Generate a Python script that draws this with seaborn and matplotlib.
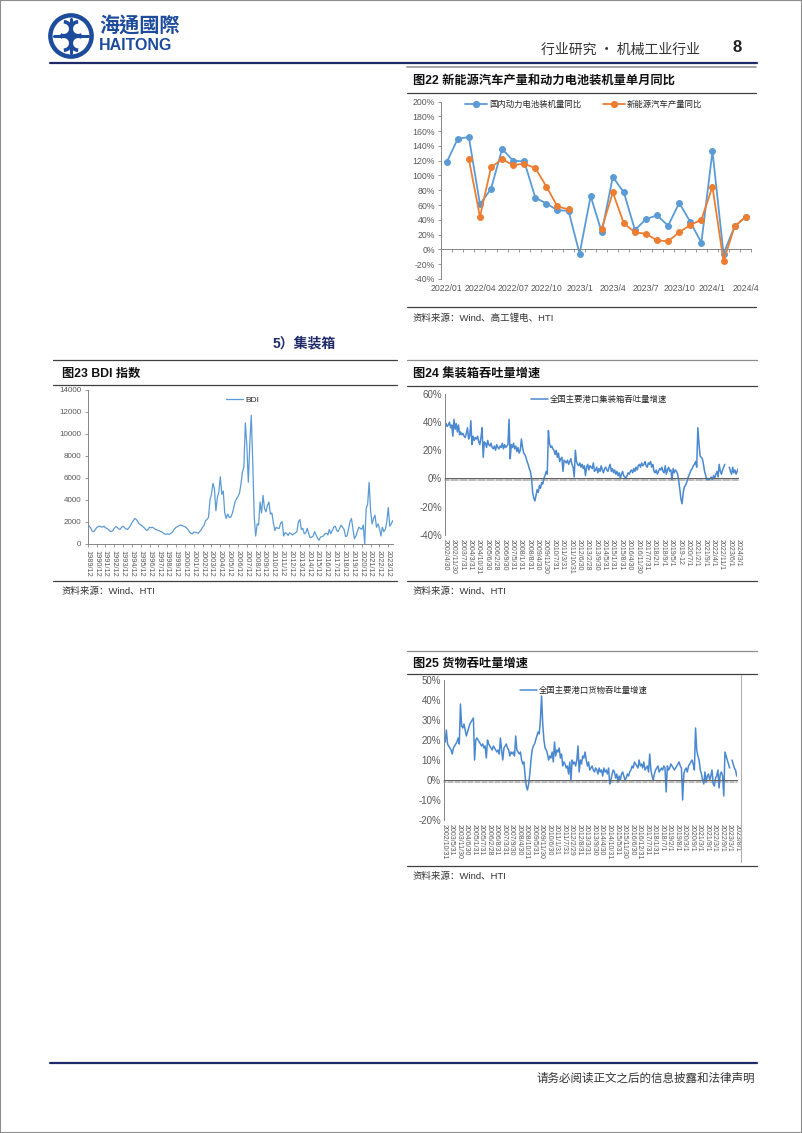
import numpy as np
import pandas as pd
import matplotlib
matplotlib.use('Agg')
import matplotlib.pyplot as plt
import seaborn as sns
from matplotlib.lines import Line2D
from matplotlib.patches import Circle, Rectangle, Arc

sns.set_theme(style='white')
plt.rcParams['font.family'] = ['Liberation Sans', 'Noto Sans CJK SC', 'DejaVu Sans']
plt.rcParams['axes.unicode_minus'] = False

# ---------------- data ----------------
# Fig 22 (monthly, 2022/01 - 2024/04), %
x22_labels = ['2022/01', '2022/04', '2022/07', '2022/10', '2023/1', '2023/4',
              '2023/7', '2023/10', '2024/1', '2024/4']
battery_yoy = [118, 150, 152, 61, 82, 136, 120, 119, 70, 62, 53, 52, -6, 72,
               23, 98, 77, 26, 41, 46, 32, 63, 37, 9, 133, -6, 31, 44]
nev_yoy = [np.nan, np.nan, 122, 44, 111, 122, 114, 116, 110, 85, 58, 54, np.nan, np.nan,
           28, 77, 35, 23, 21, 12, 11, 23, 33, 40, 85, -16, 31, 44]

# Fig 23 BDI (bi-monthly from 1989/12)
bdi = [1700,
       1600, 1450, 1150, 1100, 1250, 1450,
       1550, 1600, 1550, 1500, 1600, 1450,
       1400, 1300, 1150, 1100, 1200, 1400,
       1550, 1500, 1350, 1300, 1500, 1600,
       1450, 1350, 1300, 1450, 1650, 1900,
       2100, 2300, 2200, 2000, 1800, 1700,
       1600, 1500, 1350, 1200, 1300, 1500,
       1450, 1500, 1400, 1300, 1250, 1200,
       1150, 1100, 1000, 900, 850, 900,
       850, 900, 1000, 1150, 1350, 1500,
       1550, 1650, 1700, 1650, 1600, 1550,
       1450, 1300, 1100, 950, 900, 1050,
       1050, 1000, 950, 1100, 1250, 1500,
       1700, 2100, 2200, 2400, 4000, 4500,
       5500, 5000, 3000, 4200, 4700, 6100,
       4500, 4800, 2800, 2300, 2700, 2400,
       2400, 2700, 3200, 3800, 4100, 4300,
       4600, 5400, 6500, 7000, 11000, 9000,
       5600, 9000, 11700, 7500, 2500, 700,
       1800, 1700, 3800, 2800, 4400, 3200,
       2900, 3500, 3800, 2700, 2800, 1900,
       1200, 1500, 1400, 1400, 1900, 2000,
       700, 1000, 950, 750, 1000, 900,
       800, 900, 1000, 1100, 2000, 2200,
       1300, 1400, 900, 1000, 1400, 900,
       550, 600, 700, 1100, 800, 500,
       320, 600, 650, 700, 900, 950,
       800, 1300, 900, 1200, 1500, 1600,
       1200, 1100, 1400, 1700, 1500, 1300,
       650, 700, 1300, 2000, 2300, 1400,
       450, 700, 1100, 1500, 1400, 1300,
       1700, 0, 3200, 3600, 5600, 3000,
       1800, 2300, 2600, 1500, 1800, 1400,
       700, 1500, 1100, 1300, 2000, 3300,
       1600, 1800, 2100]
bdi_years = list(range(1989, 2024))

# Fig 24 container throughput growth (monthly from 2002/4), %
container = [36, 39, 37, 38, 40, 36, 38, 30, 42, 35, 39, 33, 38, 31,
             33, 31, 32, 30, 29, 32, 36, 28, 30, 41, 24, 30,
             27, 29, 28, 30, 26, 24, 29, 36,
             15, 26, 25, 22, 27, 24, 23,
             25, 22, 21, 23, 20, 24, 22, 21, 23, 22, 25, 21, 24, 22, 23, 24,
             42, 14,
             24, 22, 25, 21, 23, 19, 22, 18, 20, 28,
             22, 18, 17, 15, 12, 10, 7, 5, 0, -10, -14, -16,
             -12, -8, -10, -5, -7, -3, -4, 0, 2, 5, 3,
             34, 25,
             22, 23, 21, 20, 17, 20, 15, 18, 12, 14, 15, 5, 13, 12, 11, 13, 10, 12, 14, 10, 8, 1,
             20,
             12, 10, 9, 11, 8, 10, 7, 9, 2, 8, 10, 6, 9, 8, 7, 11, 5,
             6, 8, 4, 7, 5, 9, 6, 4, 7, 8, 6, 5, 8, 10, 5, 7, 4, 6, 3, 5, 2, 4, 0, 3, 5, 2, 1, 0, 2, 4,
             3, 5, 6, 4, 7, 5, 8, 6, 9, 10, 8, 11, 9, 10, 12, 9, 8, 11, 10, 12, 8, 10, 5,
             4, 6, 3, 5, 7, 6, 8, 5, 4, 9, 3, 6, 8, 5, 6, -1, 7, 4,
             6, 5, 3, -2, -8, -15, -18, -10, -6,
             -5, -3, 0, 2, 4, 6, 7, 9, 10, 12, 8, 36,
             25, 16, 15, 14, 10, 5, 2, -1, 0,
             -1, 0, 1, -1, 2, 0, 3, 5, 1, 10, 5, 3, 6, 8, 10,
             np.nan, np.nan, np.nan,
             8, 5, 3, 8, 4, 6, 3, 5, 7]
container_labels = ['2002/4/30', '2002/11/30', '2003/7/31', '2004/3/31', '2004/10/31', '2005/6/30',
                    '2006/2/28', '2006/9/30', '2007/5/31', '2008/1/31', '2008/8/31', '2009/4/30',
                    '2009/11/30', '2010/7/31', '2011/3/31', '2011/10/31', '2012/6/30', '2013/2/28',
                    '2013/9/30', '2014/5/31', '2015/1/31', '2015/8/31', '2016/4/30', '2016/11/30',
                    '2017/7/31', '2018/2/1', '2018/9/1', '2019/5/1', '2019-12', '2020/7/1',
                    '2021/2/1', '2021/9/1', '2022/4/1', '2022/11/1', '2023/6/1', '2024/3/1']

# Fig 25 cargo throughput growth (monthly from 2002/10), %
cargo = [20, 19, 25, 18, 17, 16, 15, 13, 16, 17, 18, 19, 21, 18,
         38,
         27, 26, 28, 25, 22, 24, 26, 28, 29, 30, 31,
         10,
         20, 21, 20, 19, 18, 17, 18, 16, 17, 11, 20, 18, 17, 16, 15,
         17, 16, 15, 14, 15, 13, 21, 15, 10, 16, 17,
         18, 16, 15, 12, 14, 13, 14, 12, 22, 15, 14, 13, 14,
         10, 8, 9, 2, -3, -5, -2,
         3, 10, 15, 17, 18, 20, 22, 24, 23, 30, 42, 28,
         20, 16, 15, 13, 10, 12, 11, 14, 9, 19, 12,
         15, 14, 16, 11, 13, 7, 9, 8, 6, 7, 3, 9, 0, 10, 8,
         9, 7, 10, 17, 4, 10, 8, 12, 11, 14, 10, 7,
         9, 5, 6, 7, 5, 4, 6, 5, 3, 6, 4, 5, 2, 6, 4, 5, 3,
         6, -2, 0, 3, 5, 4, 1, 3, -1, 2, 0, 3, 4, 2, 0, 1, 3,
         2, 4, 5, 7, 6, 9, 8, 7, 6, 10, 7, 8, 6, 9, 5, 6, 7,
         4, 13, 5, 2, 0, 3, 5, 6, 7, 4, 5, 6, 5, 7, 6, -6,
         7, 5, 6, 8, 7, 6, 5, 6, 7, 8, 9, 7, 6, -10, 3, 5,
         6, 4, 7, 8, 9, 10, 8, 5, 26, 15, 12,
         10, 5, 3, 0, -2, 4, -1, 2, 3, 0, 2, 5,
         -2, -3, 1, 2, 5, -4, 3, 4, 2, -8,
         14, 12, 10, 8, 6,
         np.nan,
         10, 8, 6, 5, 2]
cargo_labels = ['2002/10/31', '2003/5/31', '2003/11/30', '2004/6/30', '2005/1/31', '2005/7/31',
                '2006/2/28', '2006/8/31', '2007/3/31', '2007/9/30', '2008/4/30', '2008/10/31',
                '2009/5/31', '2009/11/30', '2010/6/30', '2011/1/31', '2011/7/31', '2012/2/29',
                '2012/8/31', '2013/3/31', '2013/9/30', '2014/4/30', '2014/10/31', '2015/5/31',
                '2015/11/30', '2016/6/30', '2016/12/31', '2017/7/31', '2018/1/31', '2018/7/1',
                '2019/2/1', '2019/8/1', '2020/3/1', '2020/9/1', '2021/3/1', '2021/9/1',
                '2022/3/1', '2022/9/1', '2023/3/1', '2023/8/1']

# ---------------- layout helpers ----------------
W, H = 802, 1133
fig = plt.figure(figsize=(W / 100, H / 100), dpi=100)
fig.patch.set_facecolor('white')
NAVY = '#1f2a6b'
LOGO = '#1d4c9c'
TICK = '#595959'
AX = '#868686'


def fx(x):
    return x / W


def fy(y):
    return 1 - y / H


def hline(x0, x1, y, color='#404040', lw=0.8):
    fig.add_artist(Line2D([fx(x0), fx(x1)], [fy(y), fy(y)], color=color, lw=lw,
                          transform=fig.transFigure))


def vline(x, y0, y1, color='#b0b0b0', lw=0.8):
    fig.add_artist(Line2D([fx(x), fx(x)], [fy(y0), fy(y1)], color=color, lw=lw,
                          transform=fig.transFigure))


def text(x, y, s, **kw):
    kw.setdefault('va', 'center')
    fig.text(fx(x), fy(y), s, **kw)


def add_ax(x0, y0, x1, y1):
    return fig.add_axes([fx(x0), fy(y1), (x1 - x0) / W, (y1 - y0) / H])


def seg_line(ax, y, color, lw, **kw):
    s = pd.Series(y, dtype=float)
    df = pd.DataFrame({'x': np.arange(len(s)), 'y': s, 'seg': s.isna().cumsum()}).dropna()
    sns.lineplot(data=df, x='x', y='y', units='seg', estimator=None, color=color, lw=lw,
                 ax=ax, legend=False, **kw)


def style_axis(ax):
    for sp in ['top', 'right']:
        ax.spines[sp].set_visible(False)
    ax.spines['left'].set_color(AX)
    ax.spines['left'].set_linewidth(0.7)
    ax.spines['bottom'].set_color(AX)
    ax.spines['bottom'].set_linewidth(0.7)
    ax.set_facecolor('none')
    ax.grid(False)
    ax.set_xlabel('')
    ax.set_ylabel('')
    ax.tick_params(axis='y', left=True, length=2.5, width=0.6, color=AX, labelsize=6.3,
                   labelcolor=TICK, pad=2)


# ---------------- page frame, header, footer ----------------
fig.add_artist(Rectangle((0, 0), 1, 1, transform=fig.transFigure, fill=False,
                         ec='#8c8c8c', lw=1.5))

logo_ax = add_ax(47, 12, 95, 60)
logo_ax.set_xlim(-1, 1)
logo_ax.set_ylim(-1, 1)
logo_ax.axis('off')
logo_ax.add_patch(Circle((0, 0), 0.86, fill=False, ec=LOGO, lw=3.2))
for (cx, cy, t1, t2) in [(0.3, 0.3, 90, 300), (-0.3, 0.3, 240, 90), (-0.3, -0.3, 270, 120),
                         (0.3, -0.3, 60, 270)]:
    logo_ax.add_patch(Arc((cx, cy), 0.58, 0.58, theta1=t1, theta2=t2, ec=LOGO, lw=2.6))
logo_ax.plot([-0.7, 0.7], [0, 0], color=LOGO, lw=2.2)
logo_ax.plot([0, 0], [-0.7, 0.7], color=LOGO, lw=2.2)

text(99, 25, '海通國際', fontsize=14.5, fontweight='bold', color=LOGO,
     family=['Noto Sans CJK TC', 'Noto Sans CJK SC'])
text(99, 45, 'HAITONG', fontsize=11.5, fontweight='bold', color=LOGO)
text(700, 50, '行业研究 · 机械工业行业', fontsize=10, color='#333333', ha='right',
     family=['Noto Sans CJK SC', 'DejaVu Sans'])
text(737, 48, '8', fontsize=12, fontweight='bold', color='#222222', ha='center')
hline(50, 757, 63, NAVY, 1.6)

hline(50, 757, 1063, NAVY, 1.6)
text(755, 1078, '请务必阅读正文之后的信息披露和法律声明', fontsize=8.3, color='#333333', ha='right',
     family=['Noto Sans CJK SC'])

# ---------------- Fig 22 ----------------
hline(407, 756, 67, '#a6a6a6', 1.4)
text(413, 81, '图22 新能源汽车产量和动力电池装机量单月同比', fontsize=8.8, fontweight='bold',
     color='#111111')
hline(407, 756, 92.5, '#404040', 0.9)
hline(407, 756, 307, '#404040', 0.9)
text(413, 318, '资料来源：Wind、高工锂电、HTI', fontsize=6.8, color='#333333')

ax22 = add_ax(441.2, 101.7, 751.2, 278.8)
BLUE22 = '#5b9bd5'
ORANGE22 = '#ed7d31'
seg_line(ax22, battery_yoy, BLUE22, 1.3, marker='o', markersize=4.2, markeredgecolor=BLUE22)
seg_line(ax22, nev_yoy, ORANGE22, 1.3, marker='o', markersize=4.2, markeredgecolor=ORANGE22)
style_axis(ax22)
ax22.set_xlim(-0.5, len(battery_yoy) - 0.5)
ax22.set_ylim(-40, 200)
yt = np.arange(-40, 201, 20)
ax22.set_yticks(yt)
ax22.set_yticklabels([f'{v}%' for v in yt])
ax22.spines['bottom'].set_position(('data', 0))
ax22.set_xticks(np.arange(-0.5, len(battery_yoy), 1))
ax22.tick_params(axis='x', bottom=True, labelbottom=False, length=2.5, width=0.6, color=AX,
                 direction='out')
sec22 = ax22.secondary_xaxis(0)
sec22.set_xticks(np.arange(0, len(battery_yoy), 3))
sec22.set_xticklabels(x22_labels)
sec22.tick_params(length=0, labelsize=6.3, labelcolor=TICK, pad=4)
sec22.spines['bottom'].set_visible(False)
h22 = [Line2D([], [], color=BLUE22, lw=1.3, marker='o', markersize=4.2),
       Line2D([], [], color=ORANGE22, lw=1.3, marker='o', markersize=4.2)]
ax22.legend(h22, ['国内动力电池装机量同比', '新能源汽车产量同比'], ncol=2, frameon=False,
            loc='center left', bbox_to_anchor=((465 - 441.2) / 310, 1 - 2.6 / 177.1),
            borderaxespad=0, borderpad=0, handlelength=2.6, handletextpad=0.3, numpoints=1,
            columnspacing=2.6, prop={'family': ['Noto Sans CJK SC'], 'size': 6})

# ---------------- section heading ----------------
text(304, 343, '5）集装箱', fontsize=10, fontweight='bold', color=NAVY, ha='center',
     family=['Liberation Sans', 'Noto Sans CJK SC'])

# ---------------- Fig 23 BDI ----------------
hline(53, 397, 360, '#404040', 0.9)
text(62, 374, '图23 BDI 指数', fontsize=8.8, fontweight='bold', color='#111111')
hline(53, 397, 385, '#404040', 0.9)
hline(53, 397, 581, '#404040', 0.9)
text(62, 591, '资料来源：Wind、HTI', fontsize=6.8, color='#333333')

bdi_dates = pd.date_range('1989-12-01', periods=len(bdi), freq='2MS')
df23 = pd.DataFrame({'date': bdi_dates, 'BDI': bdi})
ax23 = add_ax(87.7, 390, 392.7, 543.7)
sns.lineplot(data=df23, x='date', y='BDI', color='#5b9bd5', lw=0.9, ax=ax23, legend=False)
style_axis(ax23)
ax23.set_xlim(bdi_dates[0], bdi_dates[-1])
ax23.set_ylim(0, 14000)
ax23.set_yticks(np.arange(0, 14001, 2000))
ax23.set_yticklabels([f'{v}' for v in range(0, 14001, 2000)])
ax23.tick_params(axis='y', labelsize=5.8)
bt = pd.to_datetime([f'{y}-12-01' for y in bdi_years])
ax23.set_xticks(bt)
ax23.set_xticklabels([f'{y}/12' for y in bdi_years], rotation=-90)
ax23.tick_params(axis='x', bottom=True, length=2.5, width=0.6, color=AX, labelsize=5.3,
                 labelcolor=TICK, pad=2)
ax23.legend([Line2D([], [], color='#5b9bd5', lw=0.9)], ['BDI'], frameon=False,
            loc='center left', bbox_to_anchor=((226 - 87.7) / 305, 1 - 10 / 153.7),
            borderaxespad=0, borderpad=0, fontsize=6, handlelength=2.0, handletextpad=0.3)

# ---------------- Fig 24 container ----------------
hline(407, 757, 360, '#8c8c8c', 0.9)
text(413, 375, '图24 集装箱吞吐量增速', fontsize=8.8, fontweight='bold', color='#111111')
hline(407, 757, 386, '#404040', 0.9)
hline(407, 757, 581, '#404040', 0.9)
text(413, 591, '资料来源：Wind、HTI', fontsize=6.8, color='#333333')

BLUE = '#4a89d0'
ax24 = add_ax(445, 394, 738.3, 534.7)
seg_line(ax24, container, BLUE, 1.1)
style_axis(ax24)
n24 = len(container)
ax24.set_xlim(0, n24 - 1)
ax24.set_ylim(-40, 60)
yt = np.arange(-40, 61, 20)
ax24.set_yticks(yt)
ax24.set_yticklabels([f'{v}%' for v in yt])
ax24.tick_params(axis='y', labelsize=7, length=0)
ax24.spines['bottom'].set_position(('data', 0))
ax24.spines['bottom'].set_color('#606060')
ax24.set_xticks(np.arange(n24))
ax24.tick_params(axis='x', bottom=True, labelbottom=False, length=2.0, width=0.35,
                 color='#606060', direction='out')
sec24 = ax24.secondary_xaxis(0)
sec24.set_xticks(np.linspace(0, n24 - 1, len(container_labels)))
sec24.set_xticklabels(container_labels, rotation=-90)
sec24.tick_params(length=0, labelsize=5.0, labelcolor=TICK, pad=3)
sec24.spines['bottom'].set_visible(False)
ax24.legend([Line2D([], [], color=BLUE, lw=1.1)], ['全国主要港口集装箱吞吐量增速'], frameon=False,
            loc='center left', bbox_to_anchor=((531 - 445) / 293.3, 1 - 5 / 140.7),
            borderaxespad=0, borderpad=0, handlelength=2.0, handletextpad=0.3,
            prop={'family': ['Noto Sans CJK SC'], 'size': 6})

# ---------------- Fig 25 cargo ----------------
hline(407, 757, 651, '#8c8c8c', 0.9)
text(413, 664, '图25 货物吞吐量增速', fontsize=8.8, fontweight='bold', color='#111111')
hline(407, 757, 674, '#404040', 0.9)
hline(407, 757, 866, '#404040', 0.9)
vline(741, 675, 862)
text(413, 876, '资料来源：Wind、HTI', fontsize=6.8, color='#333333')

ax25 = add_ax(444, 680, 736.7, 820)
seg_line(ax25, cargo, BLUE, 1.1)
style_axis(ax25)
n25 = len(cargo)
ax25.set_xlim(0, n25 - 1)
ax25.set_ylim(-20, 50)
yt = np.arange(-20, 51, 10)
ax25.set_yticks(yt)
ax25.set_yticklabels([f'{v}%' for v in yt])
ax25.tick_params(axis='y', labelsize=7, length=0)
ax25.spines['bottom'].set_position(('data', 0))
ax25.spines['bottom'].set_color('#606060')
ax25.set_xticks(np.arange(n25))
ax25.tick_params(axis='x', bottom=True, labelbottom=False, length=2.0, width=0.35,
                 color='#606060', direction='out')
sec25 = ax25.secondary_xaxis(0)
sec25.set_xticks(np.linspace(0, n25 - 1, len(cargo_labels)))
sec25.set_xticklabels(cargo_labels, rotation=-90)
sec25.tick_params(length=0, labelsize=5.0, labelcolor=TICK, pad=3)
sec25.spines['bottom'].set_visible(False)
ax25.legend([Line2D([], [], color=BLUE, lw=1.1)], ['全国主要港口货物吞吐量增速'], frameon=False,
            loc='center left', bbox_to_anchor=((520 - 444) / 292.7, 1 - 10 / 140),
            borderaxespad=0, borderpad=0, handlelength=2.0, handletextpad=0.3,
            prop={'family': ['Noto Sans CJK SC'], 'size': 6})

fig.savefig('out.png', dpi=100, facecolor='white')
